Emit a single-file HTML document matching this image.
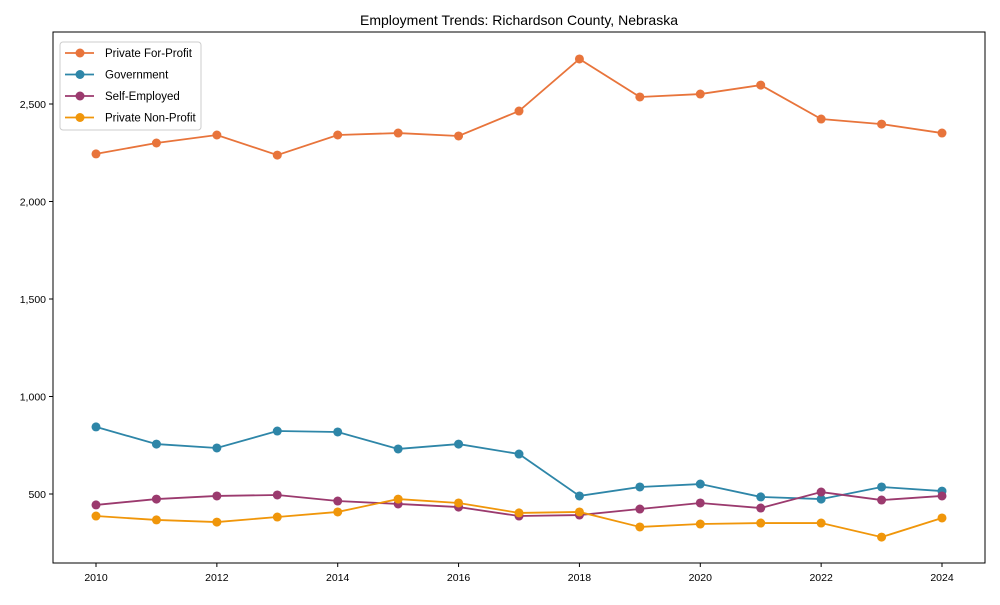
<!DOCTYPE html>
<html><head><meta charset="utf-8"><style>
body{margin:0;background:#fff;}
svg text{font-family:"Liberation Sans",Arial,sans-serif;}
</style></head><body>
<svg id="chart" width="1000" height="600" xmlns="http://www.w3.org/2000/svg">
<rect width="1000" height="600" fill="#fff"/>
<text x="519" y="25" font-size="14" text-anchor="middle">Employment Trends: Richardson County, Nebraska</text>
<g id="axes"></g>
<g id="series"></g>
<g id="legend"></g>
</svg>
<script>
const years = [2010,2011,2012,2013,2014,2015,2016,2017,2018,2019,2020,2021,2022,2023,2024];
const privateForProfit = [2244,2300,2341,2238,2341,2351,2336,2464,2731,2536,2551,2597,2423,2397,2351];
const government = [844,756,736,823,818,731,756,705,490,536,551,485,474,536,515];
const selfEmployed = [444,474,490,495,464,449,433,387,392,423,454,428,510,469,490];
const privateNonProfit = [387,367,356,382,408,474,454,403,408,331,346,351,351,279,377];
const yTicks = [500,1000,1500,2000,2500];
const xTicks = [2010,2012,2014,2016,2018,2020,2022,2024];
const seriesNames = ["Private For-Profit","Government","Self-Employed","Private Non-Profit"];
const colors = ["#e8743b","#2e86a8","#9b3a6e","#f0960a"];

const NS="http://www.w3.org/2000/svg";
const L=53,R=985,T=32,B=563;
function xs(v){return 96+(v-2010)*(942-96)/14;}
function ys(v){return 494-(v-500)*0.195;}
function mk(t,a,p){const e=document.createElementNS(NS,t);for(const k in a)e.setAttribute(k,a[k]);p.appendChild(e);return e;}
const ax=document.getElementById('axes');
const frame=mk('rect',{x:L,y:T,width:R-L,height:B-T,fill:'none',stroke:'#000','stroke-width':1},ax);


yTicks.forEach(v=>{
  const y=ys(v);
  mk('line',{x1:L-4,x2:L,y1:y,y2:y,stroke:'#000'},ax);
  const t=mk('text',{x:L-7,y:y+4,'font-size':10.5,'text-anchor':'end'},ax);
  t.textContent=v.toLocaleString('en-US');
  
  
});
xTicks.forEach(v=>{
  const x=xs(v);
  mk('line',{x1:x,x2:x,y1:B,y2:B+4,stroke:'#000'},ax);
  const t=mk('text',{x:x,y:B+18,'font-size':10.5,'text-anchor':'middle'},ax);
  t.textContent=v;
  
  
});
const sg=document.getElementById('series');
[privateForProfit,government,selfEmployed,privateNonProfit].forEach((d,i)=>{
  const g=mk('g',{},sg);
  
  
  mk('polyline',{points:d.map((v,j)=>xs(years[j])+','+ys(v)).join(' '),fill:'none',stroke:colors[i],'stroke-width':1.8},g);
  d.forEach((v,j)=>{
    const c=mk('circle',{cx:xs(years[j]),cy:ys(v),r:4.5,fill:colors[i]},g);
    
    
  });
});
const lg=document.getElementById('legend');


mk('rect',{x:60,y:42,width:141,height:88,rx:3,fill:'#fff',stroke:'#ccc'},lg);
seriesNames.forEach((n,i)=>{
  const y=53+i*21.5;
  const e=mk('g',{},lg);
  
  
  mk('line',{x1:65,x2:94,y1:y,y2:y,stroke:colors[i],'stroke-width':1.8},e);
  mk('circle',{cx:80,cy:y,r:4.5,fill:colors[i]},e);
  const t=mk('text',{x:105,y:y+4,'font-size':11.5},e);
  t.textContent=n;
});
</script>
</body></html>
